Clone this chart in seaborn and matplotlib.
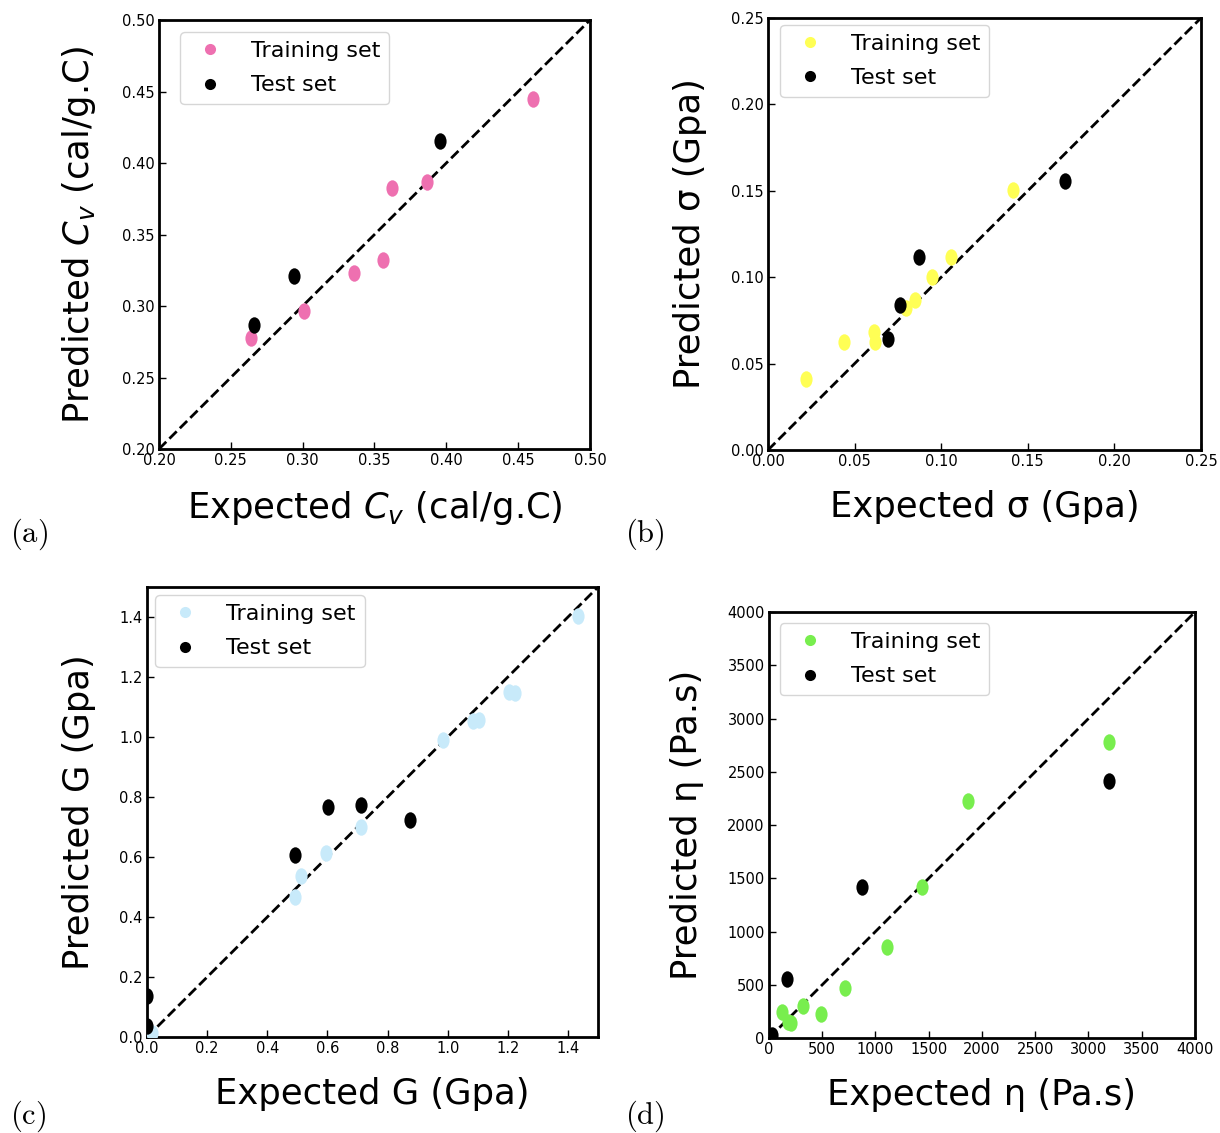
import numpy as np
import pandas as pd
import seaborn as sns
import matplotlib.pyplot as plt
from matplotlib.path import Path
from matplotlib.transforms import Affine2D
from matplotlib.lines import Line2D

# (a) heat capacity Cv
cv_train_exp = [0.2638, 0.3007, 0.3357, 0.3560, 0.3620, 0.3863, 0.4605]
cv_train_pred = [0.2776, 0.2967, 0.3230, 0.3320, 0.3827, 0.3870, 0.4450]
cv_test_exp = [0.2664, 0.2938, 0.3953]
cv_test_pred = [0.2867, 0.3210, 0.4156]

# (b) strength sigma
sg_train_exp = [0.0218, 0.0437, 0.0612, 0.0620, 0.0797, 0.0849, 0.0947, 0.1057, 0.1416]
sg_train_pred = [0.0411, 0.0627, 0.0681, 0.0623, 0.0820, 0.0868, 0.1001, 0.1117, 0.1503]
sg_test_exp = [0.0691, 0.0762, 0.0870, 0.1715]
sg_test_pred = [0.0642, 0.0841, 0.1117, 0.1558]

# (c) shear modulus G
g_train_exp = [0.015, 0.493, 0.513, 0.594, 0.713, 0.983, 1.083, 1.104, 1.203, 1.225, 1.434]
g_train_pred = [0.013, 0.468, 0.537, 0.614, 0.699, 0.990, 1.054, 1.057, 1.149, 1.146, 1.404]
g_test_exp = [0.0, 0.0, 0.493, 0.603, 0.713, 0.875]
g_test_pred = [0.038, 0.137, 0.606, 0.768, 0.773, 0.723]

# (d) viscosity eta
eta_train_exp = [125, 181, 204, 316, 491, 717, 1111, 1437, 1866, 3192]
eta_train_pred = [247, 153, 138, 303, 225, 467, 857, 1421, 2222, 2779]
eta_test_exp = [25, 172, 876, 3192]
eta_test_pred = [28, 551, 1421, 2416]

panels = [
    dict(tr=(cv_train_exp, cv_train_pred), te=(cv_test_exp, cv_test_pred),
         color='#EE70B0', lim=(0.20, 0.50), ticks=np.arange(0.20, 0.501, 0.05), fmt='{:.2f}',
         xlabel=r'Expected $C_v$ (cal/g.C)', ylabel=r'Predicted $C_v$ (cal/g.C)',
         pos=[0.1303, 0.6037, 0.3533, 0.3786], leg=(0.049, 0.972),
         tag='(a)', tagpos=(0.008, 0.522)),
    dict(tr=(sg_train_exp, sg_train_pred), te=(sg_test_exp, sg_test_pred),
         color='#FFFF55', lim=(0.0, 0.25), ticks=np.arange(0.0, 0.251, 0.05), fmt='{:.2f}',
         xlabel='Expected σ (Gpa)', ylabel='Predicted σ (Gpa)',
         pos=[0.6295, 0.6028, 0.3549, 0.3813], leg=(0.028, 0.984),
         tag='(b)', tagpos=(0.512, 0.522)),
    dict(tr=(g_train_exp, g_train_pred), te=(g_test_exp, g_test_pred),
         color='#C8EAFA', lim=(0.0, 1.5), ticks=np.arange(0.0, 1.41, 0.2), fmt='{:.1f}',
         xlabel='Expected G (Gpa)', ylabel='Predicted G (Gpa)',
         pos=[0.1205, 0.0847, 0.3697, 0.3972], leg=(0.018, 0.982),
         tag='(c)', tagpos=(0.008, 0.008)),
    dict(tr=(eta_train_exp, eta_train_pred), te=(eta_test_exp, eta_test_pred),
         color='#78EE4E', lim=(0, 4000), ticks=np.arange(0, 4001, 500), fmt='{:.0f}',
         xlabel='Expected η (Pa.s)', ylabel='Predicted η (Pa.s)',
         pos=[0.6303, 0.0838, 0.3492, 0.3760], leg=(0.026, 0.974),
         tag='(d)', tagpos=(0.512, 0.008)),
]

sns.set_style('white')
plt.rcParams['font.family'] = ['DejaVu Sans']
plt.rcParams.update({'text.color': 'black', 'axes.labelcolor': 'black',
                     'xtick.color': 'black', 'ytick.color': 'black'})

# slightly tall ellipse marker like the original figure
ellipse = Path.unit_circle().transformed(Affine2D().scale(1.0, 1.35))

fig = plt.figure(figsize=(12.2, 11.33), dpi=100)

for p in panels:
    ax = fig.add_axes(p['pos'])
    tr = pd.DataFrame({'exp': p['tr'][0], 'pred': p['tr'][1]})
    te = pd.DataFrame({'exp': p['te'][0], 'pred': p['te'][1]})
    sns.scatterplot(data=tr, x='exp', y='pred', ax=ax, color=p['color'],
                    marker=ellipse, s=140, linewidth=0, zorder=3)
    sns.scatterplot(data=te, x='exp', y='pred', ax=ax, color='black',
                    marker=ellipse, s=140, linewidth=0, zorder=3)
    ax.axline((p['lim'][0], p['lim'][0]), slope=1, color='black', ls='--', lw=2, zorder=2)

    ax.set_xlim(p['lim'])
    ax.set_ylim(p['lim'])
    ax.set_xticks(p['ticks'])
    ax.set_yticks(p['ticks'])
    ax.set_xticklabels([p['fmt'].format(t) for t in p['ticks']])
    ax.set_yticklabels([p['fmt'].format(t) for t in p['ticks']])
    ax.tick_params(direction='in', length=5, width=1, labelsize=10.5, pad=3,
                   bottom=True, left=True, top=False, right=False)
    for sp in ax.spines.values():
        sp.set_linewidth(2)
        sp.set_color('black')

    ax.set_xlabel(p['xlabel'], fontsize=25.5, labelpad=15)
    ax.set_ylabel(p['ylabel'], fontsize=25.5, labelpad=17)

    handles = [Line2D([], [], ls='none', marker='o', ms=8, mec='none', mfc=p['color']),
               Line2D([], [], ls='none', marker='o', ms=8, mec='none', mfc='black')]
    ax.legend(handles, ['Training set', 'Test set'], loc='upper left',
              bbox_to_anchor=p['leg'], borderaxespad=0, fontsize=16,
              handlelength=1.9, handletextpad=0.9, borderpad=0.4, labelspacing=0.65)

    fig.text(p['tagpos'][0], p['tagpos'][1], r'$\mathrm{' + p['tag'] + '}$',
             fontsize=22, math_fontfamily='cm')

fig.savefig('out.png', dpi=100)
